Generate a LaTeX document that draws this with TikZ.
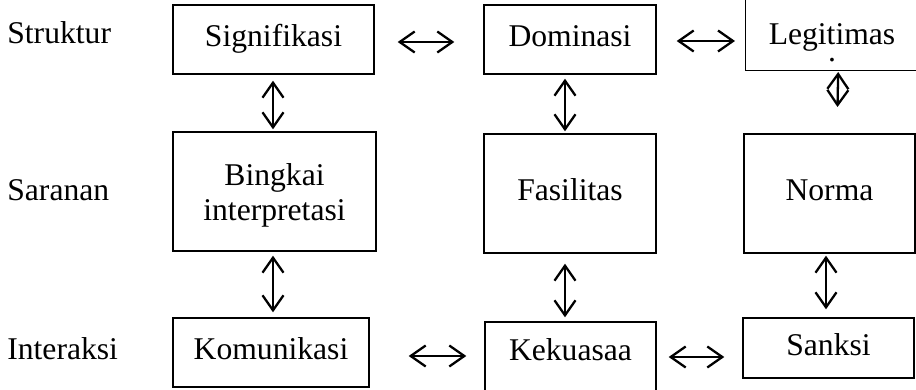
\documentclass[tikz,border=0pt]{standalone}
\usepackage{fontspec}
\setmainfont{Liberation Serif}
\usetikzlibrary{arrows.meta}

\begin{document}
\begin{tikzpicture}[font=\fontsize{18}{20}\selectfont]
        \tikzset{box/.style = {shape=rectangle,draw,line width=0.8pt,align=center,text height=0.9em,text depth=0.05em}}
        \tikzset{edge/.style = {<->,>={Straight Barb[length=3mm,width=4.2mm]},line width=1.3pt}}
        \tikzset{rowlabel/.style = {anchor=base west,inner sep=0pt}}
        \useasboundingbox (0,0) rectangle (18.32,-7.8);
        % rows
        \node[rowlabel] (struktur)  at (0.14,-0.88) {Struktur};
        \node[rowlabel] (saranan)   at (0.14,-4.02) {Saranan};
        \node[rowlabel] (interaksi) at (0.14,-7.20) {Interaksi};
        % boxes
        \node[box, minimum width=4.02cm, minimum height=1.38cm] (sig) at (5.47,-0.79) {Signifikasi};
        \node[box, minimum width=3.44cm, minimum height=1.38cm] (dom) at (11.40,-0.79) {Dominasi};
        \node[box, minimum width=3.7cm, minimum height=1.52cm, anchor=south west] (leg) at (14.90,-1.42) {};
        \node[align=center, inner sep=0pt, anchor=south] (legtext) at (16.64,-1.25) {Legitimas\\[-10pt].};
        \node[box, minimum width=4.06cm, minimum height=2.38cm, text height=, text depth=] (bing) at (5.49,-3.83) {\rule{0pt}{0.95em}Bingkai\\interpretasi};
        \node[box, minimum width=3.44cm, minimum height=2.38cm] (fas) at (11.40,-3.87) {Fasilitas};
        \node[box, minimum width=3.42cm, minimum height=2.38cm] (norma) at (16.59,-3.87) {Norma};
        \node[box, minimum width=3.92cm, minimum height=1.38cm] (kom) at (5.42,-7.05) {Komunikasi};
        \node[box, minimum width=3.42cm, minimum height=1.40cm, text depth=0.45em] (kek) at (11.41,-7.14) {Kekuasaa};
        \node[box, minimum width=3.42cm, minimum height=1.20cm] (sanksi) at (16.57,-6.96) {Sanksi};
        \coordinate (legend) at (16.75,-2.14);
        %edges
        \draw[edge, shorten <=0.46cm, shorten >=0.58cm] ([yshift=-0.05cm]sig.east) -- ([yshift=-0.05cm]sig.east -| dom.west);
        \draw[edge, shorten <=0.40cm, shorten >=0.20cm] ([yshift=-0.03cm]dom.east) -- ([yshift=-0.03cm]dom.east -| leg.west);
        \draw[edge, shorten <=0.78cm, shorten >=0.36cm] ([yshift=-0.07cm]kom.east) -- ([yshift=-0.07cm]kom.east -| kek.west);
        \draw[edge, shorten <=0.24cm, shorten >=0.36cm] (kek.east) -- (kek.east -| sanksi.west);
        \draw[edge, shorten <=0.12cm, shorten >=0.04cm] ([xshift=-0.01cm]sig.south) -- ([xshift=-0.01cm]sig.south |- bing.north);
        \draw[edge, shorten <=0.08cm, shorten >=0.10cm] ([xshift=-0.03cm]bing.south) -- ([xshift=-0.03cm]bing.south |- kom.north);
        \draw[edge, shorten <=0.08cm, shorten >=0.04cm] ([xshift=-0.10cm]dom.south) -- ([xshift=-0.10cm]dom.south |- fas.north);
        \draw[edge, shorten <=0.20cm, shorten >=0.08cm] ([xshift=-0.10cm]fas.south) -- ([xshift=-0.10cm]fas.south |- kek.north);
        \draw[edge, shorten <=0.02cm] (leg.south) -- (legend);
        \draw[edge, shorten <=0.04cm, shorten >=0.16cm] ([xshift=-0.07cm]norma.south) -- ([xshift=-0.07cm]norma.south |- sanksi.north);
\end{tikzpicture}
\end{document}
